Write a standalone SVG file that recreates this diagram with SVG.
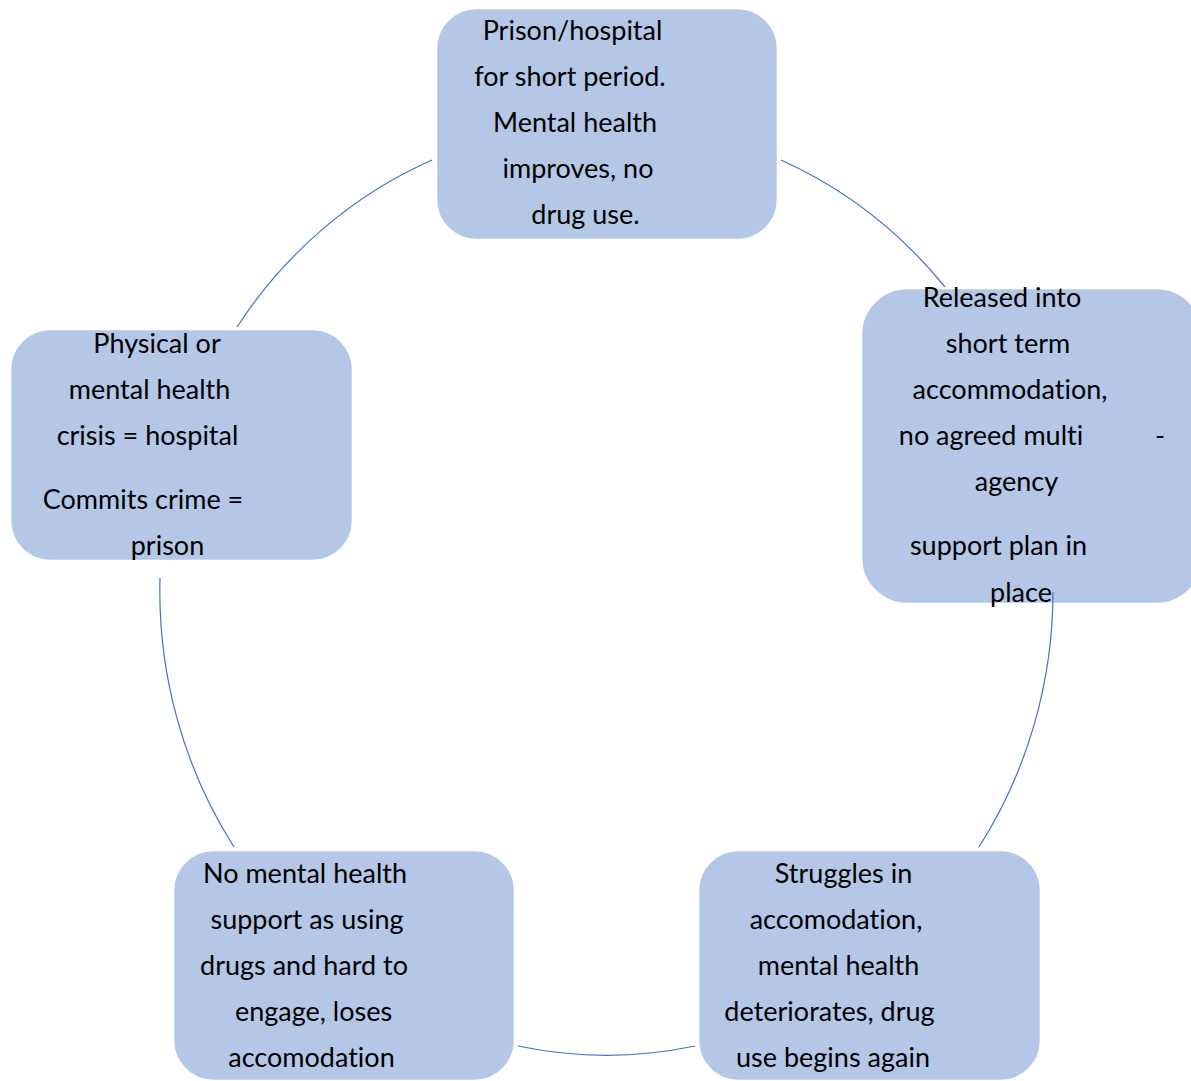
<svg xmlns="http://www.w3.org/2000/svg" width="1191" height="1081" viewBox="0 0 1191 1081">
<style>
.box{fill:#B4C7E7;stroke:#FFFFFF;stroke-width:1.5}
.t{font-family:Lato,"Open Sans","Liberation Sans",sans-serif;font-size:27px;fill:#000000;text-anchor:middle;font-variant-ligatures:none;font-feature-settings:"liga" 0}
.c{fill:none;stroke:#4472C4;stroke-width:1.2}
</style>
<rect width="1191" height="1081" fill="#FFFFFF"/>
<g id="node-prison">
<rect class="box" x="436.5" y="8.5" width="341" height="231" rx="40"/>
<text class="t" x="572.5" y="40">Prison/hospital</text>
<text class="t" x="570" y="86">for short period.</text>
<text class="t" x="575" y="132">Mental health</text>
<text class="t" x="578" y="178">improves, no</text>
<text class="t" x="585.5" y="224">drug use.</text>
</g>
<g id="node-released">
<rect class="box" x="861.5" y="288.5" width="341" height="315" rx="46"/>
<text class="t" x="1002" y="307">Released into</text>
<text class="t" x="1008" y="353">short term</text>
<text class="t" x="1010" y="399">accommodation,</text>
<text class="t" x="991" y="445">no agreed multi</text>
<text class="t" x="1160" y="445">-</text>
<text class="t" x="1016.5" y="491">agency</text>
<text class="t" x="998.5" y="555">support plan in</text>
<text class="t" x="1021" y="602">place</text>
</g>
<g id="node-struggles">
<rect class="box" x="698.5" y="850.5" width="342" height="230" rx="40"/>
<text class="t" x="843.5" y="883">Struggles in</text>
<text class="t" x="836" y="929">accomodation,</text>
<text class="t" x="838.5" y="975">mental health</text>
<text class="t" x="829.5" y="1021">deteriorates, drug</text>
<text class="t" x="833" y="1067">use begins again</text>
</g>
<g id="node-nosupport">
<rect class="box" x="173.5" y="850.5" width="341" height="230" rx="40"/>
<text class="t" x="305" y="883">No mental health</text>
<text class="t" x="307" y="929">support as using</text>
<text class="t" x="304" y="975">drugs and hard to</text>
<text class="t" x="313.5" y="1021">engage, loses</text>
<text class="t" x="311.5" y="1067">accomodation</text>
</g>
<g id="node-crisis">
<rect class="box" x="10.5" y="329.5" width="342" height="231" rx="40"/>
<text class="t" x="157" y="353">Physical or</text>
<text class="t" x="149.5" y="399">mental health</text>
<text class="t" x="147.5" y="445">crisis = hospital</text>
<text class="t" x="143" y="509">Commits crime =</text>
<text class="t" x="167.5" y="555">prison</text>
</g>
<g id="connectors">
<path class="c" d="M237,327 A447,464 0 0 1 432,160"/>
<path class="c" d="M781,160 A447,464 0 0 1 945,287"/>
<path class="c" d="M1053,592 A447,464 0 0 1 979,847"/>
<path class="c" d="M695,1046 A447,464 0 0 1 518,1046"/>
<path class="c" d="M234,847 A447,464 0 0 1 160,578"/>
</g>
</svg>
